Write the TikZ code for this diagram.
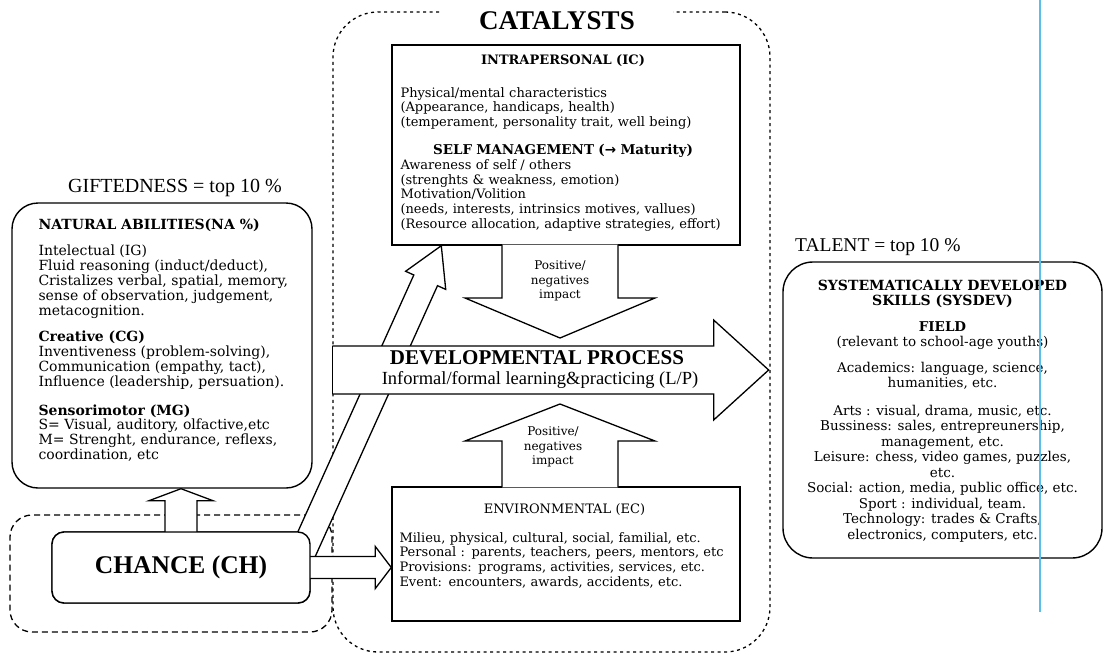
\documentclass[tikz,border=0pt]{standalone}
\usepackage{fontspec}
\setmainfont{Liberation Serif}
\newfontfamily\bodyfont{DejaVu Serif}
\newfontfamily\arrowfont{DejaVu Sans}
\usetikzlibrary{calc}
\definecolor{guideblue}{RGB}{90,190,235}
\tikzset{
	boxline/.style={draw=black,line width=1.4pt,fill=white,inner sep=0pt},
	roundbox/.style={boxline,rounded corners=26pt},
	region/.style={draw=black,line width=1.3pt,dash pattern=on 3pt off 3.5pt,inner sep=0pt},
	blockline/.style={draw=black,line width=1.3pt,line join=miter},
	bodytxt/.style={font=\bodyfont\fontsize{13}{14.8}\selectfont,align=left,inner sep=0pt},
	impacttxt/.style={font=\bodyfont\fontsize{12}{14.8}\selectfont,align=center,inner sep=0pt},
}
% block arrow: from, to, shaft half width, head half width, head length
\newcommand{\blockarrow}[5]{%
	\coordinate (ba-h) at ($#2!#5!#1$);%
	\coordinate (ba-1) at ($#1!#3!90:#2$);%
	\coordinate (ba-2) at ($(ba-h)!#3!-90:#1$);%
	\coordinate (ba-3) at ($(ba-h)!#4!-90:#1$);%
	\coordinate (ba-4) at ($(ba-h)!#4!90:#1$);%
	\coordinate (ba-5) at ($(ba-h)!#3!90:#1$);%
	\coordinate (ba-6) at ($#1!#3!-90:#2$);%
	\fill[white] (ba-1) -- (ba-2) -- (ba-3) -- #2 -- (ba-4) -- (ba-5) -- (ba-6) -- cycle;%
	\draw[blockline] (ba-1) -- (ba-2) -- (ba-3) -- #2 -- (ba-4) -- (ba-5) -- (ba-6);%
}

\begin{document}
\begin{tikzpicture}[x=1pt,y=-1pt]
	\useasboundingbox (0,0) rectangle (1106,659);
	% dashed regions
	\node[region,rounded corners=45pt,minimum width=437pt,minimum height=640pt] (cat) at (551.5,332) {};
	\node[region,dash pattern=on 6pt off 4pt,rounded corners=22pt,minimum width=322pt,minimum height=117pt] (chreg) at (171,573.5) {};
	\node[fill=white,inner xsep=38pt,inner ysep=2pt,font=\bfseries\fontsize{27}{27}\selectfont] (cattitle) at (557,21) {CATALYSTS};
	% giftedness
	\node[anchor=west,inner sep=0pt,font=\fontsize{20}{20}\selectfont] (gift) at (68,188) {GIFTEDNESS = top 10 \%};
	\node[roundbox,minimum width=300pt,minimum height=285pt] (nat) at (162,345.5) {};
	\node[bodytxt,anchor=north west,font=\bodyfont\fontsize{14}{14.8}\selectfont] (nattxt) at ([xshift=27pt,yshift=-16pt]nat.north west) {%
		{\bfseries NATURAL ABILITIES(NA \%)}\\[12pt]
		Intelectual (IG)\\
		Fluid reasoning (induct/deduct),\\
		Cristalizes verbal, spatial, memory,\\
		sense of observation, judgement,\\
		metacognition.\\[12pt]
		{\bfseries Creative (CG)}\\
		Inventiveness (problem-solving),\\
		Communication (empathy, tact),\\
		Influence (leadership, persuation).\\[14pt]
		{\bfseries Sensorimotor (MG)}\\
		S= Visual, auditory, olfactive,etc\\
		M= Strenght, endurance, reflexs,\\
		coordination, etc};
	% catalysts
	\node[boxline,minimum width=348pt,minimum height=200pt] (intra) at (566,145) {};
	\node[bodytxt,anchor=north west,text width=325pt] (intratxt) at ([xshift=9pt,yshift=-10pt]intra.north west) {%
		\makebox[\hsize]{\bfseries INTRAPERSONAL (IC)}\\[18pt]
		Physical/mental characteristics\\
		(Appearance, handicaps, health)\\
		(temperament, personality trait, well being)\\[13pt]
		\makebox[\hsize]{\bfseries\fontsize{13.5}{14.8}\selectfont SELF MANAGEMENT ({\arrowfont →} Maturity)}\\
		Awareness of self / others\\
		(strenghts \& weakness, emotion)\\
		Motivation/Volition\\
		(needs, interests, intrinsics motives, vallues)\\
		(Resource allocation, adaptive strategies, effort)};
	\node[boxline,minimum width=348pt,minimum height=134pt] (env) at (566,554) {};
	\node[bodytxt,anchor=north west,text width=330pt] (envtxt) at ([xshift=8pt,yshift=-17pt]env.north west) {%
		\makebox[\hsize]{ENVIRONMENTAL (EC)}\\[14pt]
		Milieu, physical, cultural, social, familial, etc.\\
		Personal : parents, teachers, peers, mentors, etc\\
		Provisions: programs, activities, services, etc.\\
		Event: encounters, awards, accidents, etc.};
	% talent
	\node[anchor=west,inner sep=0pt,font=\fontsize{19.5}{19.5}\selectfont] (tal) at (795,247) {TALENT = top 10 \%};
	\node[roundbox,rounded corners=30pt,minimum width=319pt,minimum height=296pt] (talent) at (942.5,410) {};
	\node[bodytxt,align=center,font=\bodyfont\fontsize{13.5}{15.5}\selectfont] (taltxt) at ([yshift=-1pt]talent.center) {%
		{\bfseries\fontsize{14}{15.5}\selectfont SYSTEMATICALLY DEVELOPED}\\
		{\bfseries\fontsize{14}{15.5}\selectfont SKILLS (SYSDEV)}\\[10pt]
		{\bfseries FIELD}\\
		(relevant to school-age youths)\\[10pt]
		Academics: language, science,\\
		humanities, etc.\\[12pt]
		Arts : visual, drama, music, etc.\\
		Bussiness: sales, entrepreunership,\\
		management, etc.\\
		Leisure: chess, video games, puzzles,\\
		etc.\\
		Social: action, media, public office, etc.\\
		Sport : individual, team.\\
		Technology: trades \& Crafts,\\
		electronics, computers, etc.};
	% chance and its arrows
	\node[boxline,rounded corners=12pt,minimum width=258pt,minimum height=71pt] (chance) at (181,567.5) {};
	\coordinate (diagfoot) at ([xshift=-11pt,yshift=-28pt]chance.north east);
	\coordinate (diagtip) at ([xshift=50pt]intra.south west);
	\blockarrow{(diagfoot)}{(diagtip)}{13pt}{22pt}{38pt}
	\blockarrow{(chance.center)}{(chance.center |- nat.south)}{16pt}{32pt}{12pt}
	\blockarrow{(chance.center)}{(chance.center -| env.west)}{11pt}{21pt}{16pt}
	\node[boxline,rounded corners=12pt,minimum width=258pt,minimum height=71pt,font=\bfseries\fontsize{25.5}{25.5}\selectfont] (chancetxt) at (chance.center) {CHANCE (CH)};
	% developmental process
	\coordinate (devtail) at (cat.west |- 0,370);
	\coordinate (devtip) at ([xshift=-2pt]devtail -| cat.east);
	\blockarrow{(devtail)}{(devtip)}{24pt}{50pt}{55pt}
	\draw[blockline] (ba-6) -- (ba-1);
	\node[inner sep=0pt,font=\bfseries\fontsize{21}{21}\selectfont] (devtitle) at (537,358) {DEVELOPMENTAL PROCESS};
	\node[inner sep=0pt,font=\fontsize{18.5}{18.5}\selectfont] (devsub) at (540,380) {Informal/formal learning\&practicing (L/P)};
	% impacts
	\coordinate (downfoot) at ([xshift=-6pt,yshift=1pt]intra.south);
	\coordinate (downtip) at (560,338);
	\blockarrow{(downfoot)}{(downtip)}{58pt}{95pt}{40pt}
	\node[impacttxt] (impdown) at (560,281) {Positive/\\negatives\\impact};
	\coordinate (upfoot) at ([xshift=-6pt,yshift=-1pt]env.north);
	\coordinate (uptip) at (560,404);
	\blockarrow{(upfoot)}{(uptip)}{58pt}{95pt}{37pt}
	\node[impacttxt] (impup) at (553,447) {Positive/\\negatives\\impact};
	% scan guide line
	\draw[guideblue,line width=1.5pt] (1040,0) -- (1040,612);
\end{tikzpicture}
\end{document}
